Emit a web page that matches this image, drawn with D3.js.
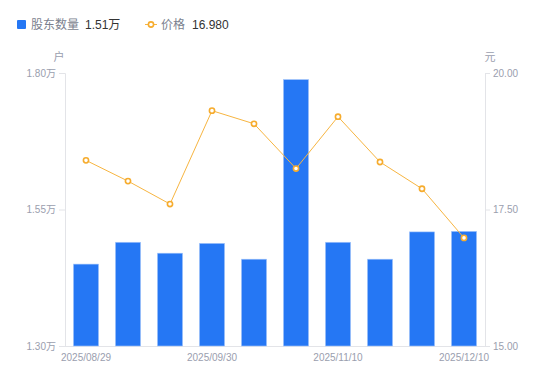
<!DOCTYPE html>
<html>
<head>
<meta charset="utf-8">
<script src="https://cdn.jsdelivr.net/npm/d3@7"></script>
<style>
  body { margin: 0; background: #fff; }
  svg { display: block; font-family: "Liberation Sans", "Noto Sans CJK SC", sans-serif; }
</style>
</head>
<body>
<svg id="chart" width="550" height="381"></svg>
<script>
const dates = ['2025/08/29', '2025/09/10', '2025/09/19', '2025/09/30', '2025/10/20',
  '2025/10/31', '2025/11/10', '2025/11/20', '2025/11/28', '2025/12/10'];
// 股东数量 (万户)
const holders = [1.450, 1.490, 1.470, 1.488, 1.459, 1.788, 1.490, 1.459, 1.509, 1.510];
// 价格 (元)
const prices = [18.40, 18.02, 17.60, 19.31, 19.07, 18.25, 19.20, 18.37, 17.88, 16.98];
const leftTicks = [1.30, 1.55, 1.80];
const rightTicks = [15.00, 17.50, 20.00];

const svg = d3.select('#chart');
const margin = { top: 73, right: 65, bottom: 35, left: 65 };
const width = 550, height = 381;
const innerW = width - margin.left - margin.right;
const innerH = height - margin.top - margin.bottom;

const x = d3.scaleBand().domain(dates).range([0, innerW]).paddingInner(0.4).paddingOuter(0.2);
const yL = d3.scaleLinear().domain([1.30, 1.80]).range([innerH, 0]);
const yR = d3.scaleLinear().domain([15, 20]).range([innerH, 0]);

const g = svg.append('g').attr('transform', `translate(${margin.left},${margin.top})`);

const axisColor = '#e3e4e8';
const labelColor = '#9a9eae';

// left axis
const leftAxis = g.append('g')
  .call(d3.axisLeft(yL).tickValues(leftTicks).tickSize(6).tickPadding(3)
    .tickFormat(d => d.toFixed(2) + '万'));
// right axis
const rightAxis = g.append('g').attr('transform', `translate(${innerW},0)`)
  .call(d3.axisRight(yR).tickValues(rightTicks).tickSize(5).tickPadding(3)
    .tickFormat(d => d.toFixed(2)));
// bottom axis
const bottomAxis = g.append('g').attr('transform', `translate(0,${innerH})`)
  .call(d3.axisBottom(x).tickSize(0).tickPadding(8)
    .tickFormat((d, i) => i % 3 === 0 ? d : ''));

[leftAxis, rightAxis, bottomAxis].forEach(a => {
  a.select('.domain').attr('stroke', axisColor);
  a.selectAll('.tick line').attr('stroke', axisColor);
  a.selectAll('.tick text').attr('fill', labelColor).attr('font-size', 10)
    .attr('font-family', '"Liberation Sans", "Noto Sans CJK SC", sans-serif');
});
bottomAxis.select('.domain').attr('d', `M0,0.5H${innerW}`);

// unit labels
g.append('text').attr('x', -6).attr('y', -12).attr('text-anchor', 'middle')
  .attr('fill', labelColor).attr('font-size', 11).text('户');
g.append('text').attr('x', innerW + 5).attr('y', -12).attr('text-anchor', 'middle')
  .attr('fill', labelColor).attr('font-size', 11).text('元');

// bars
g.append('g').selectAll('rect')
  .data(holders)
  .join('rect')
  .attr('x', (d, i) => x(dates[i]))
  .attr('y', d => yL(d))
  .attr('width', x.bandwidth())
  .attr('height', d => innerH - yL(d))
  .attr('fill', '#2577f4')
  .attr('stroke', '#a8c8fb')
  .attr('stroke-width', 0.6);

// price line
const line = d3.line()
  .x((d, i) => x(dates[i]) + x.bandwidth() / 2)
  .y(d => yR(d));

g.append('path')
  .datum(prices)
  .attr('d', line)
  .attr('fill', 'none')
  .attr('stroke', '#f7b541')
  .attr('stroke-width', 1);

g.append('g').selectAll('circle')
  .data(prices)
  .join('circle')
  .attr('cx', (d, i) => x(dates[i]) + x.bandwidth() / 2)
  .attr('cy', d => yR(d))
  .attr('r', 2.6)
  .attr('fill', '#fff')
  .attr('stroke', '#f6ac2e')
  .attr('stroke-width', 1.6);

// legend
const legend = svg.append('g').attr('font-size', 12);
legend.append('rect').attr('x', 17).attr('y', 20).attr('width', 9).attr('height', 9)
  .attr('rx', 1).attr('fill', '#2577f4');
legend.append('text').attr('x', 31).attr('y', 29).attr('fill', '#7b7f8e').text('股东数量');
legend.append('text').attr('x', 85).attr('y', 29).attr('fill', '#333')
  .text(holders[holders.length - 1].toFixed(2) + '万');

legend.append('line').attr('x1', 145).attr('x2', 157).attr('y1', 24.5).attr('y2', 24.5)
  .attr('stroke', '#f7b541').attr('stroke-width', 1);
legend.append('circle').attr('cx', 151).attr('cy', 24.5).attr('r', 2.6)
  .attr('fill', '#fff').attr('stroke', '#f6ac2e').attr('stroke-width', 1.6);
legend.append('text').attr('x', 161).attr('y', 29).attr('fill', '#7b7f8e').text('价格');
legend.append('text').attr('x', 192).attr('y', 29).attr('fill', '#333')
  .text(prices[prices.length - 1].toFixed(3));
</script>
</body>
</html>
